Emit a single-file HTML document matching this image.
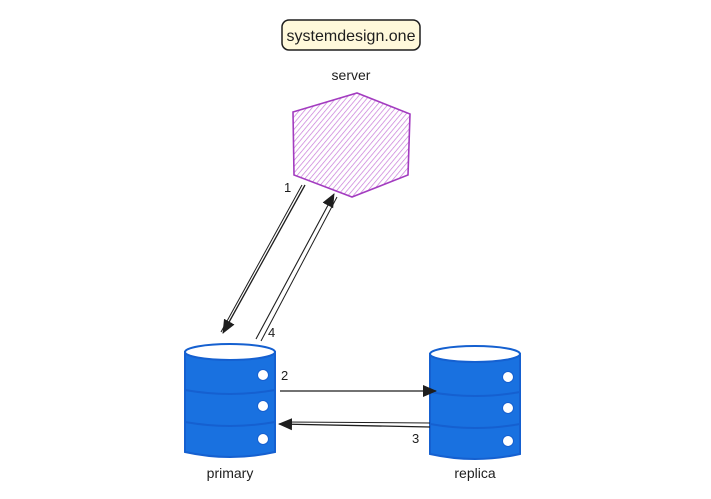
<!DOCTYPE html>
<html><head><style>body{margin:0;background:#fff}svg{display:block}text{font-family:"Liberation Sans",sans-serif;fill:#1e1e1e}</style></head><body>
<svg width="711" height="499" viewBox="0 0 711 499">
<defs>
<pattern id="h" width="4" height="4" patternUnits="userSpaceOnUse" patternTransform="rotate(40)"><line x1="0" y1="0" x2="0" y2="4" stroke="#c77ad8" stroke-width="1.4"/></pattern>
<marker id="b" markerWidth="14" markerHeight="14" refX="13" refY="7" orient="auto" markerUnits="userSpaceOnUse" viewBox="0 0 14 14"><path d="M0,1 L14,7 L0,13 z" fill="#1e1e1e"/></marker>
</defs>
<rect x="282" y="20" width="138" height="30" rx="7" fill="#fff9db" stroke="#1e1e1e" stroke-width="1.5"/>
<text x="351" y="41" font-size="16" text-anchor="middle">systemdesign.one</text>
<text x="351" y="80" font-size="14" text-anchor="middle">server</text>
<polygon points="293,112 357,93 410,114 408,175 352,197 294,175" fill="url(#h)" stroke="#a33cc0" stroke-width="1.6"/>
<text x="284" y="192" font-size="13">1</text>
<line x1="305" y1="185" x2="223" y2="333" stroke="#1e1e1e" stroke-width="1.3" marker-end="url(#b)"/>
<line x1="302" y1="185" x2="221" y2="332" stroke="#1e1e1e" stroke-width="1"/>
<line x1="256" y1="339" x2="334" y2="194" stroke="#1e1e1e" stroke-width="1.1" marker-end="url(#b)"/>
<line x1="261" y1="341" x2="337" y2="197" stroke="#1e1e1e" stroke-width="1"/>
<text x="268" y="337" font-size="13">4</text>
<g id="db">
<path d="M185,352 L185,452 Q230,462 275,452 L275,352 Z" fill="#1971e0" stroke="#1560d0" stroke-width="2"/>
<ellipse cx="230" cy="352" rx="45" ry="8" fill="#fff" stroke="#1560d0" stroke-width="2"/>
<path d="M185,390 Q230,398 275,390 M185,422 Q230,430 275,422" fill="none" stroke="#1560d0" stroke-width="2"/>
<circle cx="263" cy="375" r="5.5" fill="#fff" stroke="#1560d0"/>
<circle cx="263" cy="406" r="5.5" fill="#fff" stroke="#1560d0"/>
<circle cx="263" cy="439" r="5.5" fill="#fff" stroke="#1560d0"/>
</g>
<use href="#db" transform="translate(245,2)"/>
<text x="230" y="478" font-size="14" text-anchor="middle">primary</text>
<text x="475" y="478" font-size="14" text-anchor="middle">replica</text>
<text x="281" y="380" font-size="13">2</text>
<line x1="280" y1="391" x2="436" y2="391" stroke="#1e1e1e" stroke-width="1.3" marker-end="url(#b)"/>
<line x1="430" y1="427" x2="279" y2="424" stroke="#1e1e1e" stroke-width="1.3" marker-end="url(#b)"/>
<line x1="430" y1="423" x2="285" y2="422" stroke="#1e1e1e" stroke-width="1"/>
<text x="412" y="443" font-size="13">3</text>
</svg>
</body></html>
